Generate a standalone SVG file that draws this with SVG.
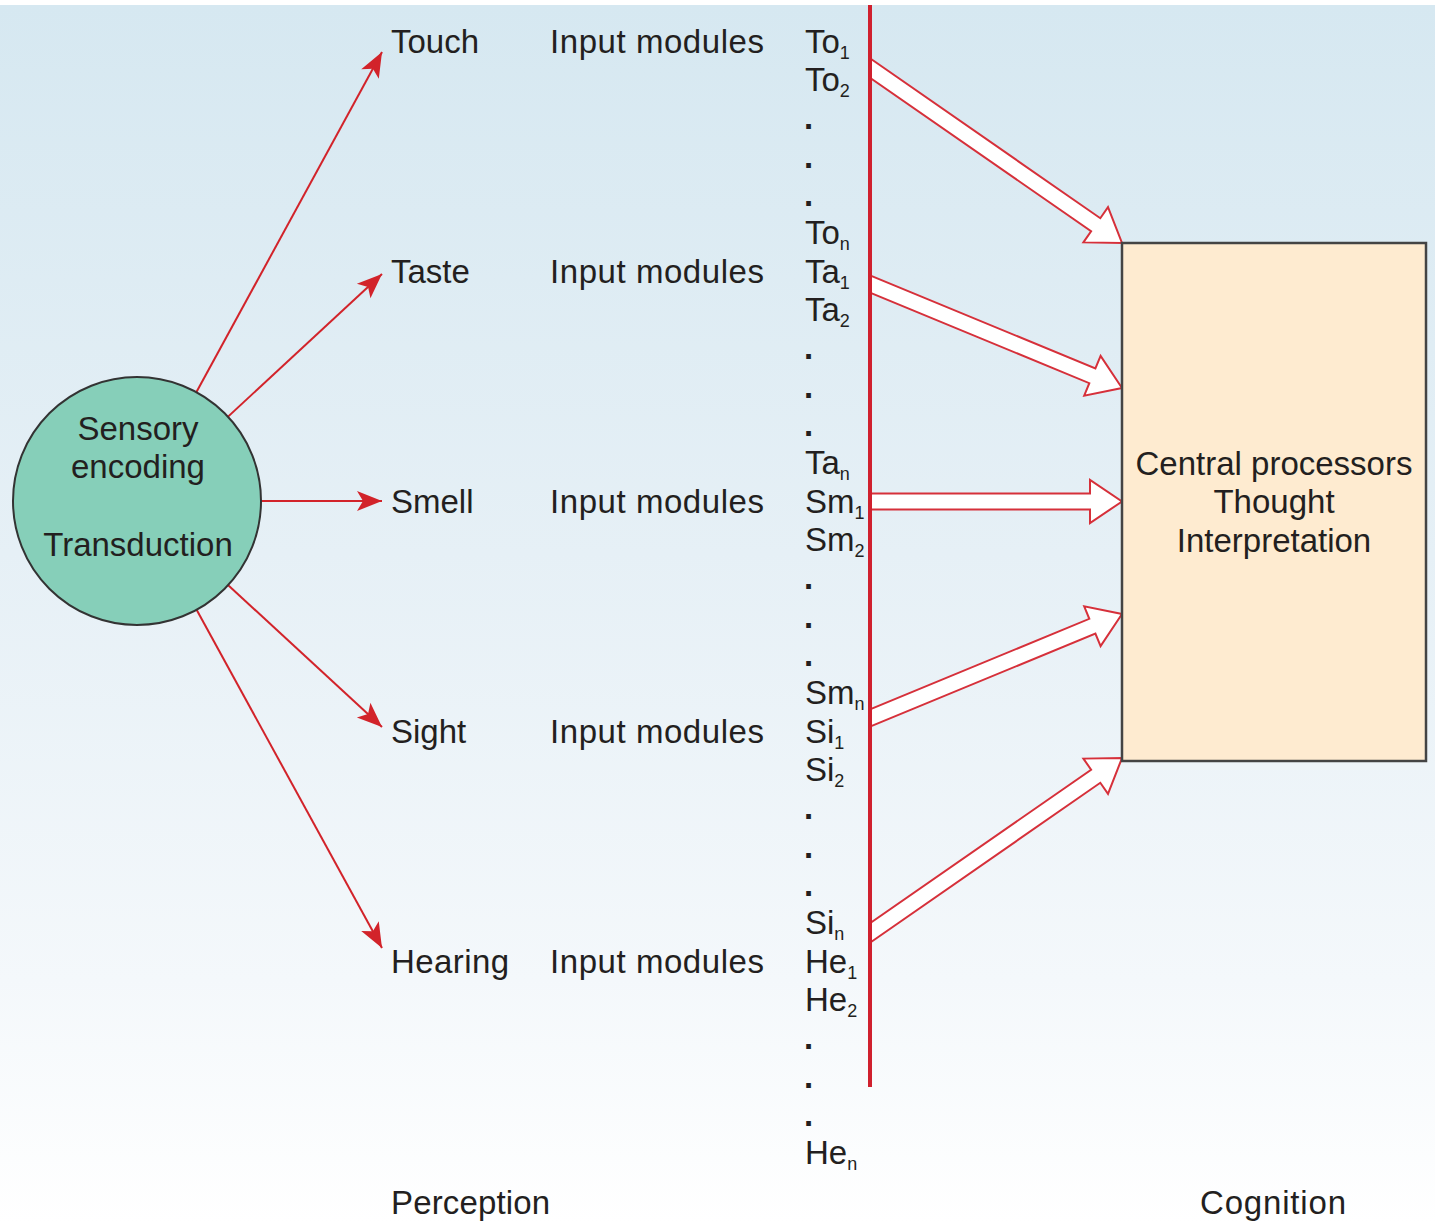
<svg xmlns="http://www.w3.org/2000/svg" width="1435" height="1224" viewBox="0 0 1435 1224">
<defs>
<linearGradient id="bg" x1="0" y1="0" x2="0" y2="1">
<stop offset="0" stop-color="#d6e8f1"/>
<stop offset="0.45" stop-color="#e6f0f6"/>
<stop offset="0.8" stop-color="#f4f8fb"/>
<stop offset="1" stop-color="#ffffff"/>
</linearGradient>
<marker id="head" markerUnits="userSpaceOnUse" markerWidth="40" markerHeight="40" refX="0" refY="0" orient="auto" overflow="visible">
<path d="M0,0 L-25,-10 L-19,0 L-25,10 Z" fill="#d2232a"/>
</marker>
<style>
text{font-family:"Liberation Sans",Arial,sans-serif;font-size:33px;fill:#231f20}
.c{text-anchor:middle}
.sub{font-size:18px}
.dot{font-weight:bold}
.thin{stroke:#d2232a;stroke-width:2;fill:none;marker-end:url(#head)}
.hollow{fill:#ffffff;stroke:#d6303a;stroke-width:2;stroke-linejoin:miter}
</style>
</defs>
<rect x="0" y="0" width="1435" height="1224" fill="#ffffff"/>
<rect x="0" y="5" width="1435" height="1219" fill="url(#bg)"/>

<g id="connectors">
<line class="thin" x1="137" y1="501" x2="382" y2="52"/>
<line class="thin" x1="137" y1="501" x2="382" y2="274"/>
<line class="thin" x1="137" y1="501" x2="382" y2="501"/>
<line class="thin" x1="137" y1="501" x2="382" y2="727"/>
<line class="thin" x1="137" y1="501" x2="382" y2="948"/>
<polygon class="hollow" points="870,58.3 1100.3,218.2 1108,207.1 1122,243 1083.4,242.4 1091.1,231.3 870,77.7"/>
<polygon class="hollow" points="870,275.4 1095.4,368.4 1100.6,355.9 1122,388 1084.2,395.7 1089.3,383.2 870,292.7"/>
<polygon class="hollow" points="870,493.5 1090,493.5 1090,480 1122,501.5 1090,523 1090,509.5 870,509.5"/>
<polygon class="hollow" points="870,726.6 1095.4,633.6 1100.6,646.1 1122,614 1084.2,606.3 1089.3,618.8 870,709.3"/>
<polygon class="hollow" points="870,942.7 1100.3,782.8 1108,793.9 1122,758 1083.4,758.6 1091.1,769.7 870,923.3"/>
<line x1="870" y1="5" x2="870" y2="1087" stroke="#d0202e" stroke-width="4"/>
</g>

<g id="sensory">
<circle cx="137" cy="501" r="124" fill="#86cfb9" stroke="#333333" stroke-width="2"/>
<text class="c" x="138" y="440">Sensory</text>
<text class="c" x="138" y="478">encoding</text>
<text class="c" x="138" y="556">Transduction</text>
</g>

<g id="touch"><text x="391" y="52.5">Touch</text><text x="550" y="52.5" textLength="214">Input modules</text></g>
<g id="taste"><text x="391" y="282.5">Taste</text><text x="550" y="282.5" textLength="214">Input modules</text></g>
<g id="smell"><text x="391" y="512.5">Smell</text><text x="550" y="512.5" textLength="214">Input modules</text></g>
<g id="sight"><text x="391" y="742.5">Sight</text><text x="550" y="742.5" textLength="214">Input modules</text></g>
<g id="hearing"><text x="391" y="972.5" textLength="118">Hearing</text><text x="550" y="972.5" textLength="214">Input modules</text></g>

<g id="modules">
<text x="805" y="52.5">To<tspan class="sub" dy="6">1</tspan></text>
<text x="805" y="90.8">To<tspan class="sub" dy="6">2</tspan></text>
<text class="dot" x="804" y="129.2">.</text>
<text class="dot" x="804" y="167.5">.</text>
<text class="dot" x="804" y="205.8">.</text>
<text x="805" y="244.2">To<tspan class="sub" dy="6">n</tspan></text>
<text x="805" y="282.5">Ta<tspan class="sub" dy="6">1</tspan></text>
<text x="805" y="320.8">Ta<tspan class="sub" dy="6">2</tspan></text>
<text class="dot" x="804" y="359.2">.</text>
<text class="dot" x="804" y="397.5">.</text>
<text class="dot" x="804" y="435.8">.</text>
<text x="805" y="474.2">Ta<tspan class="sub" dy="6">n</tspan></text>
<text x="805" y="512.5">Sm<tspan class="sub" dy="6">1</tspan></text>
<text x="805" y="550.8">Sm<tspan class="sub" dy="6">2</tspan></text>
<text class="dot" x="804" y="589.2">.</text>
<text class="dot" x="804" y="627.5">.</text>
<text class="dot" x="804" y="665.8">.</text>
<text x="805" y="704.2">Sm<tspan class="sub" dy="6">n</tspan></text>
<text x="805" y="742.5">Si<tspan class="sub" dy="6">1</tspan></text>
<text x="805" y="780.8">Si<tspan class="sub" dy="6">2</tspan></text>
<text class="dot" x="804" y="819.2">.</text>
<text class="dot" x="804" y="857.5">.</text>
<text class="dot" x="804" y="895.8">.</text>
<text x="805" y="934.2">Si<tspan class="sub" dy="6">n</tspan></text>
<text x="805" y="972.5">He<tspan class="sub" dy="6">1</tspan></text>
<text x="805" y="1010.8">He<tspan class="sub" dy="6">2</tspan></text>
<text class="dot" x="804" y="1049.2">.</text>
<text class="dot" x="804" y="1087.5">.</text>
<text class="dot" x="804" y="1125.8">.</text>
<text x="805" y="1164.2">He<tspan class="sub" dy="6">n</tspan></text>
</g>

<g id="central">
<rect x="1122" y="243" width="304" height="518" fill="#feebd0" stroke="#444444" stroke-width="2.5"/>
<text class="c" x="1274" y="475">Central processors</text>
<text class="c" x="1274" y="513">Thought</text>
<text class="c" x="1274" y="552">Interpretation</text>
</g>

<g id="footer">
<text x="391" y="1214" textLength="159">Perception</text>
<text x="1200" y="1214" textLength="146">Cognition</text>
</g>
</svg>
